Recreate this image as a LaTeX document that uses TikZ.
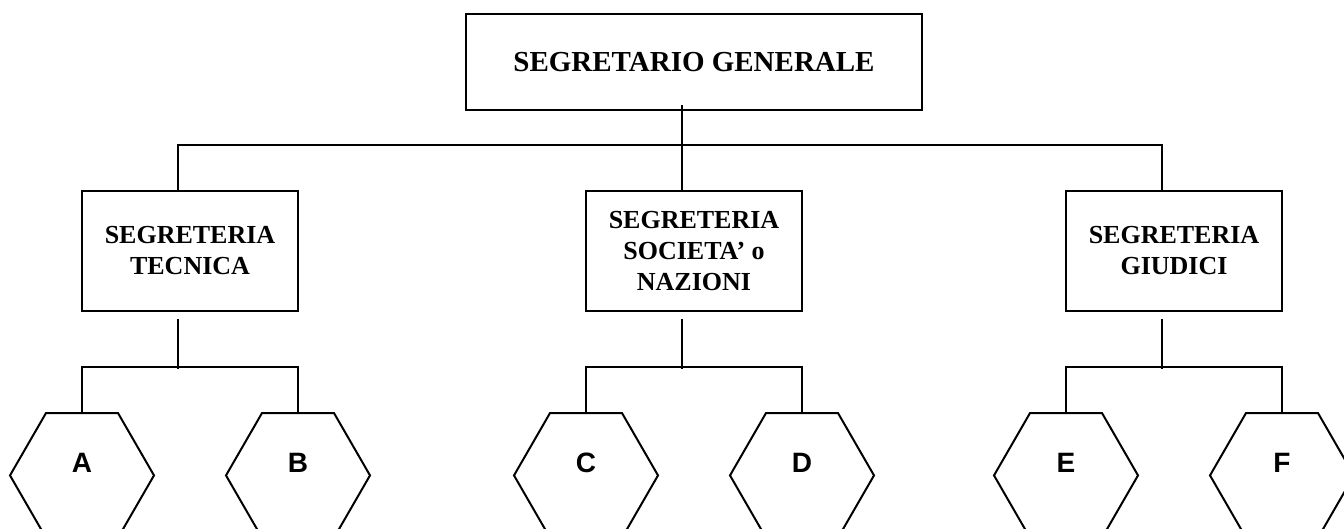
\documentclass[tikz,border=0pt]{standalone}
\usepackage{fontspec}
\setmainfont{Liberation Serif}
\newfontfamily\hexfont{Liberation Sans}
\usetikzlibrary{shapes.geometric}
\tikzset{ufficio/.style={draw, rectangle, inner sep=0pt, align=center,
                         minimum width=216pt, minimum height=120pt,
                         font=\fontsize{26}{31}\selectfont\bfseries},
         sezione/.style={draw, regular polygon, regular polygon sides=6,
                         minimum size=144pt, inner sep=0pt},
         lettera/.style={font=\fontsize{28}{30}\hexfont\bfseries, yshift=13pt}}

\begin{document}
\begin{tikzpicture}[x=1pt,y=-1pt,line width=2pt]
   \useasboundingbox (0,0) rectangle (1344,528);
   \clip (0,0) rectangle (1344,528);
   \begin{scope}
    \node[ufficio, minimum width=456pt, minimum height=96pt,
          font=\fontsize{29}{31}\selectfont\bfseries] (gen) at (694,62) {SEGRETARIO GENERALE};
    \node[ufficio] (tec) at (190,251) {SEGRETERIA\\TECNICA};
    \node[ufficio] (soc) at (694,251) {SEGRETERIA\\SOCIETA' o\\NAZIONI};
    \node[ufficio] (giu) at (1174,251) {SEGRETERIA\\GIUDICI};
   \end{scope}
   \begin{scope}
    \node[sezione, label={[lettera]center:A}] (hA) at (82,475.4) {};
    \node[sezione, label={[lettera]center:B}] (hB) at (298,475.4) {};
    \node[sezione, label={[lettera]center:C}] (hC) at (586,475.4) {};
    \node[sezione, label={[lettera]center:D}] (hD) at (802,475.4) {};
    \node[sezione, label={[lettera]center:E}] (hE) at (1066,475.4) {};
    \node[sezione, label={[lettera]center:F}] (hF) at (1282,475.4) {};
   \end{scope}
   % collegamenti
   \draw ([xshift=-12pt,yshift=6pt]gen.south) -- ([xshift=-12pt]soc.north);
   \draw ([xshift=-12pt]tec.north) -- ++(0,-45) -| ([xshift=-12pt]giu.north);
   \foreach \u/\p/\q in {tec/hA/hB, soc/hC/hD, giu/hE/hF} {
    \draw ([xshift=-12pt,yshift=-7pt]\u.south) -- ++(0,50);
    \draw ([yshift=-2pt]\p.north) -- ++(0,-47) -| ([yshift=-2pt]\q.north);
   }
  \end{tikzpicture}
\end{document}
